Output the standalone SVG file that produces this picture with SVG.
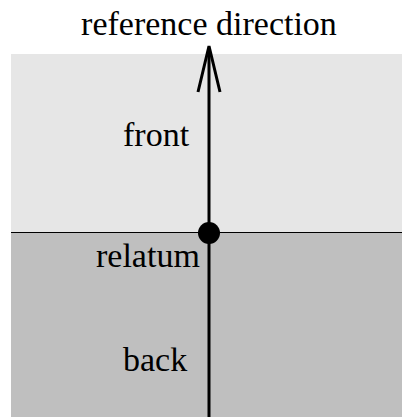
<svg xmlns="http://www.w3.org/2000/svg" width="406" height="417" viewBox="0 0 406 417">
<style>
text { font-family: "Liberation Serif", "Times New Roman", serif; font-size: 34px; fill: #000; }
.ln { stroke: #000; stroke-width: 3; fill: none; }
</style>
<rect width="406" height="417" fill="#fff"/>
<g id="front-region">
<rect x="11" y="54" width="391" height="179" fill="#e6e6e6"/>
<text x="123" y="146">front</text>
</g>
<g id="back-region">
<rect x="11" y="233" width="391" height="184" fill="#bfbfbf"/>
<text x="123" y="371">back</text>
</g>
<g id="divider">
<line x1="11" y1="232.5" x2="402" y2="232.5" stroke="#000" stroke-width="1"/>
</g>
<g id="connectors">
<line class="ln" x1="209" y1="417" x2="209" y2="48"/>
<polyline class="ln" points="198,92 209,46 220,92" stroke-linejoin="miter"/>
</g>
<g id="relatum">
<circle cx="209" cy="233" r="11" fill="#000"/>
<text x="96" y="267">relatum</text>
</g>
<g id="title">
<text x="209" y="35" text-anchor="middle">reference direction</text>
</g>
</svg>
